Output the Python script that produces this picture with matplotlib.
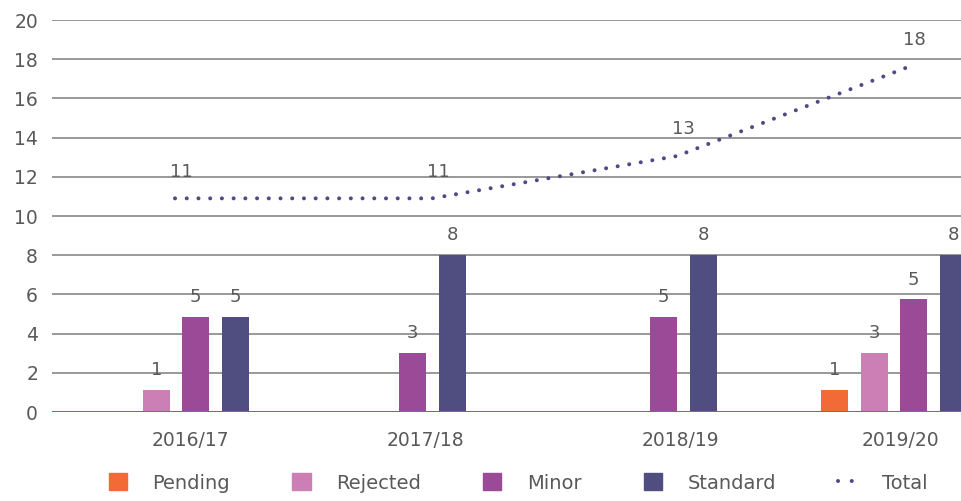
import matplotlib
matplotlib.use('Agg')
import matplotlib.pyplot as plt
from matplotlib.patches import Patch
from matplotlib.lines import Line2D

# --- data ---
years = ['2016/17', '2017/18', '2018/19', '2019/20']
series = ['Pending', 'Rejected', 'Minor', 'Standard']
pending = [0, 0, 0, 1.12]
rejected = [1.12, 0, 0, 3.0]
minor = [4.85, 3.0, 4.85, 5.75]
standard = [4.85, 8.0, 8.0, 8.0]
total = [10.9, 10.9, 13.06, 17.6]
bar_labels = [[None, None, None, '1'],
              ['1', None, None, '3'],
              ['5', '3', '5', '5'],
              ['5', '8', '8', '8']]
total_labels = ['11', '11', '13', '18']

colors = ['#f26a36', '#cc7fb5', '#9b4a97', '#504d80']
line_color = '#4f4a85'
text_color = '#595959'

# layout positions (pixel-like x units)
group_x = [176, 393, 644, 894]
tick_x = [190, 425, 680, 900]
total_x = [175, 432, 677, 908]
slot = 39.5
bar_w = 27

plt.rcParams['font.family'] = ['DejaVu Sans']
W, H = 962, 501
fig = plt.figure(figsize=(W / 100, H / 100), dpi=100)
left, right = 52, 962
ax = fig.add_axes([left / W, (H - 412) / H, (right - left) / W, 392 / H])
ax.set_xlim(left, right)
ax.set_ylim(0, 20)

for i, vals in enumerate([pending, rejected, minor, standard]):
    for g in range(len(years)):
        v = vals[g]
        if v <= 0:
            continue
        x = group_x[g] + (i - 1.5) * slot
        ax.bar(x, v, width=bar_w, color=colors[i], zorder=3)
        lab = bar_labels[i][g]
        if lab:
            ax.text(x, v + 0.55, lab, ha='center', va='bottom', fontsize=13,
                    color=text_color, zorder=4)

dots = (0, (0.01, 2.9))
ax.plot(total_x, total, color=line_color, lw=2.9, linestyle=dots,
        dash_capstyle='round', zorder=4)
for x, v, lab in zip(total_x, total, total_labels):
    ax.text(x + 6, v + 0.9, lab, ha='center', va='bottom', fontsize=13,
            color=text_color, zorder=4)

# axes styling
ax.set_yticks(range(0, 21, 2))
ax.yaxis.grid(True, color='#999999', lw=1.4, zorder=0)
ax.set_axisbelow(True)
for s in ax.spines.values():
    s.set_visible(False)
ax.axhline(0, color='#a052a0', lw=2.2, zorder=5)
ax.tick_params(axis='y', length=0, pad=10, labelsize=13.5, labelcolor=text_color)
ax.set_xticks(tick_x)
ax.set_xticklabels(years)
ax.tick_params(axis='x', length=0, pad=14, labelsize=13.5, labelcolor=text_color)

handles = [Patch(color=c) for c in colors]
handles.append(Line2D([], [], color=line_color, lw=2.9, linestyle=(0, (0.01, 3.4)),
                      dash_capstyle='round'))
leg = fig.legend(handles, series + ['Total'], loc='center', ncol=5,
                 bbox_to_anchor=(518 / W, (H - 483) / H), frameon=False,
                 fontsize=14, handlelength=0.95, handleheight=0.95,
                 handletextpad=1.3, columnspacing=3.2)
for t in leg.get_texts():
    t.set_color(text_color)

fig.savefig('out.png', dpi=100)
